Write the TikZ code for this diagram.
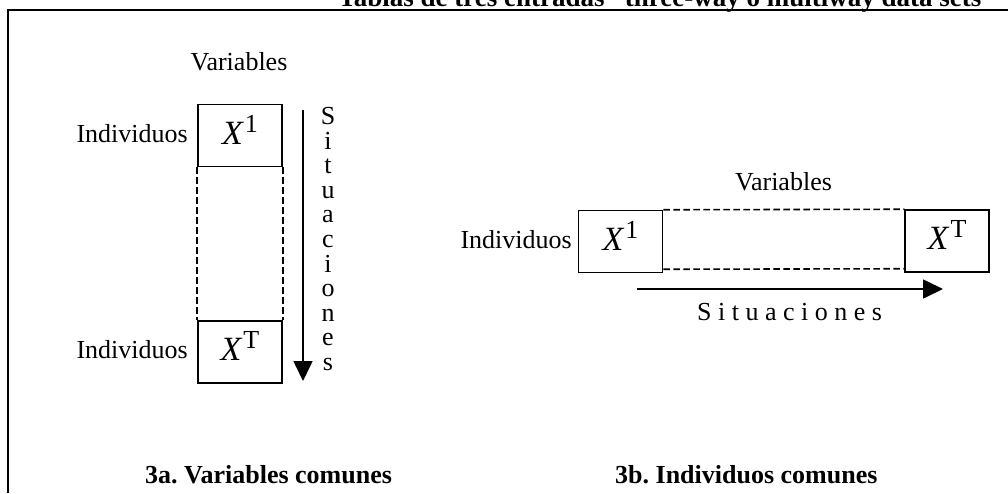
\documentclass[tikz,border=0pt]{standalone}
\usepackage{fontspec}
\setmainfont{Liberation Serif}
\usepackage{tikz}
\usetikzlibrary{arrows.meta}
\frenchspacing
\newcommand{\tabname}[1]{\fontsize{34pt}{34pt}\selectfont\textit{X}\kern1pt\smash{\raisebox{12pt}{\fontsize{26pt}{26pt}\selectfont #1}}}
\tikzset{%
  tabbox/.style={draw, line width=1.5pt, rectangle, inner sep=0pt, minimum width=84pt, minimum height=62pt, text height=17pt, text depth=0pt},
  lbl/.style={inner sep=0pt, font=\fontsize{26pt}{26pt}\selectfont},
  captext/.style={inner sep=0pt, anchor=base west, font=\fontsize{26pt}{26pt}\selectfont\bfseries},
  flow/.style={line width=1.6pt, -{Triangle[length=20pt, width=19pt]}},
  joint/.style={line width=1.6pt, dash pattern=on 6.5pt off 3.5pt}
}

\begin{document}
\begin{tikzpicture}[x=1pt, y=-1pt]%
\useasboundingbox (0, 0) rectangle (1008, 493);%
% frame and heading
\draw[line width=2.2pt] (8, 493) -- (8, 10) -- (1008, 10);%
\node[lbl, anchor=base east, font=\fontsize{27pt}{27pt}\selectfont\bfseries] (title) at (995, 6) {Tablas de tres entradas ``three-way o multiway data sets''};%
% 3a: tables stacked
\node[lbl, anchor=base] (varA) at (239, 70) {Variables};%
\node[tabbox] (xA1) at (240, 135.5) {\tabname{1}};%
\node[tabbox] (xAT) at (240, 352) {\tabname{T}};%
\node[lbl, anchor=base east] (indA1) at (188, 142) {Individuos};%
\node[lbl, anchor=base east] (indAT) at (188, 358) {Individuos};%
\draw[joint] (xA1.south west) -- (xAT.north west);%
\draw[joint] (xA1.south east) -- (xAT.north east);%
\coordinate (sitA0) at (303, 110);%
\coordinate (sitA1) at (303, 381);%
\draw[flow] (sitA0) -- (sitA1);%
\node[lbl, anchor=north, align=center, font=\fontsize{26pt}{24.6pt}\selectfont] (sitA) at (328, 107) {S\\i\\t\\u\\a\\c\\i\\o\\n\\e\\s};%
\node[captext] (capA) at (145, 483) {3a. Variables comunes};%
% 3b: tables side by side
\node[lbl, anchor=base] (varB) at (783.5, 190) {Variables};%
\node[tabbox] (xB1) at (620.5, 241.5) {\tabname{1}};%
\node[tabbox] (xBT) at (947, 241) {\tabname{T}};%
\node[lbl, anchor=base east] (indB) at (572, 248) {Individuos};%
\draw[joint] (xB1.north east) -- (xBT.north west);%
\draw[joint] ([yshift=4pt]xB1.south east) -- ([yshift=4pt]xBT.south west);%
\coordinate (sitB0) at (637, 289);%
\coordinate (sitB1) at (943, 289);%
\draw[flow] (sitB0) -- (sitB1);%
\node[lbl, anchor=base west] (sitB) at (697, 320) {S i t u a c i o n e s};%
\node[captext] (capB) at (615, 483) {3b. Individuos comunes};%
\end{tikzpicture}
\end{document}
